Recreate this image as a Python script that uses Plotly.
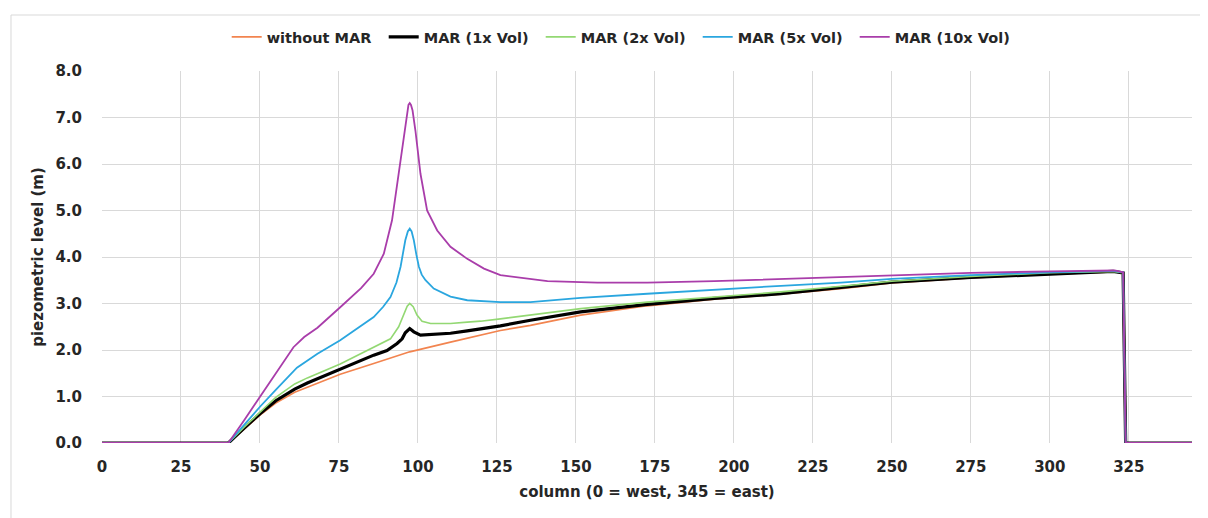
import plotly.graph_objects as go

# ---- data (column index, piezometric level in m) ----
x_without = [0, 40, 45, 50, 55, 61, 65, 75.4, 86, 97.4, 110.3, 119.8, 126.1, 135.6, 151.5, 172.6, 193.8, 214.9, 233.9, 250, 275, 300, 320, 323.2, 324, 345]
y_without = [0, 0, 0.30, 0.60, 0.86, 1.09, 1.20, 1.48, 1.71, 1.96, 2.17, 2.32, 2.42, 2.53, 2.75, 2.95, 3.09, 3.20, 3.32, 3.44, 3.55, 3.63, 3.68, 3.66, 0, 0]

x_1x = [0, 40, 45, 50, 55, 61, 65, 75.4, 86, 90.2, 93.4, 95.0, 96.0, 97.4, 98.7, 100.8, 105.0, 110.3, 115.6, 119.8, 126.1, 135.6, 151.5, 172.6, 193.8, 214.9, 233.9, 250, 275, 300, 320, 323.2, 324, 345]
y_1x = [0, 0, 0.32, 0.63, 0.91, 1.16, 1.29, 1.59, 1.89, 1.99, 2.14, 2.24, 2.37, 2.46, 2.39, 2.32, 2.33, 2.36, 2.41, 2.45, 2.52, 2.64, 2.82, 2.98, 3.11, 3.21, 3.34, 3.46, 3.56, 3.64, 3.69, 3.66, 0, 0]

x_2x = [0, 40, 45, 50, 55, 61, 65, 75.4, 86, 91.3, 93.9, 95.5, 96.6, 97.4, 98.5, 99.7, 101.3, 104.0, 110.3, 115.6, 119.8, 126.1, 135.6, 151.5, 172.6, 193.8, 214.9, 233.9, 250, 275, 300, 320, 323.2, 324, 345]
y_2x = [0, 0, 0.34, 0.67, 0.98, 1.27, 1.40, 1.70, 2.07, 2.24, 2.50, 2.78, 2.94, 3.00, 2.93, 2.75, 2.62, 2.57, 2.57, 2.60, 2.62, 2.67, 2.75, 2.89, 3.03, 3.14, 3.25, 3.37, 3.48, 3.58, 3.66, 3.69, 3.66, 0, 0]

x_5x = [0, 40, 45, 50, 55, 61.7, 68.2, 75.4, 86, 89.0, 91.3, 93.2, 94.5, 95.4, 96.0, 96.8, 97.4, 98.0, 98.7, 99.5, 100.3, 101.2, 102.4, 105.0, 110.3, 115.6, 126.1, 135.6, 151.5, 172.6, 193.8, 214.9, 233.9, 250, 275, 300, 320, 323.2, 324, 345]
y_5x = [0, 0, 0.39, 0.78, 1.14, 1.62, 1.92, 2.21, 2.71, 2.93, 3.14, 3.45, 3.79, 4.10, 4.36, 4.55, 4.61, 4.55, 4.36, 4.05, 3.79, 3.62, 3.50, 3.32, 3.15, 3.07, 3.03, 3.03, 3.12, 3.21, 3.30, 3.38, 3.45, 3.53, 3.61, 3.67, 3.70, 3.67, 0, 0]

x_10x = [0, 40, 45, 50, 55, 60.6, 64, 68.2, 75.4, 82, 86, 89.2, 91.8, 93.9, 95.7, 96.6, 97.0, 97.4, 97.8, 98.3, 99.2, 100.8, 102.9, 106.1, 110.3, 115.6, 120.9, 126.1, 130.4, 141, 156.8, 172.6, 193.8, 214.9, 233.9, 250.3, 275, 300, 320.5, 323.2, 324, 345]
y_10x = [0, 0, 0.49, 0.99, 1.50, 2.06, 2.28, 2.48, 2.92, 3.33, 3.64, 4.07, 4.79, 5.79, 6.72, 7.15, 7.27, 7.31, 7.27, 7.15, 6.72, 5.79, 5.00, 4.57, 4.22, 3.96, 3.75, 3.61, 3.57, 3.48, 3.45, 3.45, 3.48, 3.53, 3.56, 3.61, 3.66, 3.69, 3.71, 3.67, 0, 0]

series_names = ["without MAR", "MAR (1x Vol)", "MAR (2x Vol)", "MAR (5x Vol)", "MAR (10x Vol)"]
x_ticks = [0, 25, 50, 75, 100, 125, 150, 175, 200, 225, 250, 275, 300, 325]
y_ticks = [0, 1, 2, 3, 4, 5, 6, 7, 8]
y_tick_labels = ["0.0", "1.0", "2.0", "3.0", "4.0", "5.0", "6.0", "7.0", "8.0"]

colors = ["#F2844F", "#000000", "#93D873", "#2AA6DF", "#A93DAA"]
widths = [1.6, 3.2, 1.6, 1.8, 1.8]

FONT = "DejaVu Sans"
TXT = "#262626"

fig = go.Figure()
for name, xs, ys, c, w in zip(series_names,
                              [x_without, x_1x, x_2x, x_5x, x_10x],
                              [y_without, y_1x, y_2x, y_5x, y_10x],
                              colors, widths):
    fig.add_trace(go.Scatter(x=xs, y=ys, mode="lines", name=name,
                             line=dict(color=c, width=w)))

# outer chart border (paper coords relative to plot area)
fig.add_shape(type="rect", xref="paper", yref="paper",
              x0=-0.0835, x1=1.2, y0=-0.5, y1=1.1505,
              line=dict(color="#D9D9D9", width=1), fillcolor="rgba(0,0,0,0)", layer="below")

fig.update_layout(
    width=1208, height=518,
    margin=dict(l=94, r=24, t=63, b=83),
    paper_bgcolor="white", plot_bgcolor="white",
    font=dict(family=FONT, color=TXT),
    legend=dict(orientation="h", x=0.4745, xanchor="center", y=1.0914, yanchor="middle",
                font=dict(family=FONT, size=14.5, color=TXT, weight="bold"),
                entrywidth=112, bgcolor="rgba(0,0,0,0)"),
    xaxis=dict(range=[0, 345], tickvals=x_ticks, showgrid=True, gridcolor="#D9D9D9", gridwidth=1,
               zeroline=False, showline=False, ticks="", ticklabelstandoff=13,
               tickfont=dict(family=FONT, size=15, color=TXT, weight="bold"),
               title=dict(text="column (0 = west, 345 = east)", standoff=11,
                          font=dict(family=FONT, size=15, color=TXT, weight="bold"))),
    yaxis=dict(range=[0, 8], tickvals=y_ticks, ticktext=y_tick_labels, showgrid=True,
               gridcolor="#D9D9D9", gridwidth=1, zeroline=False, showline=False, ticks="",
               ticklabelstandoff=19,
               tickfont=dict(family=FONT, size=15, color=TXT, weight="bold"),
               title=dict(text="piezometric level (m)", standoff=8,
                          font=dict(family=FONT, size=15, color=TXT, weight="bold"))),
)

fig.write_html("out.html")
